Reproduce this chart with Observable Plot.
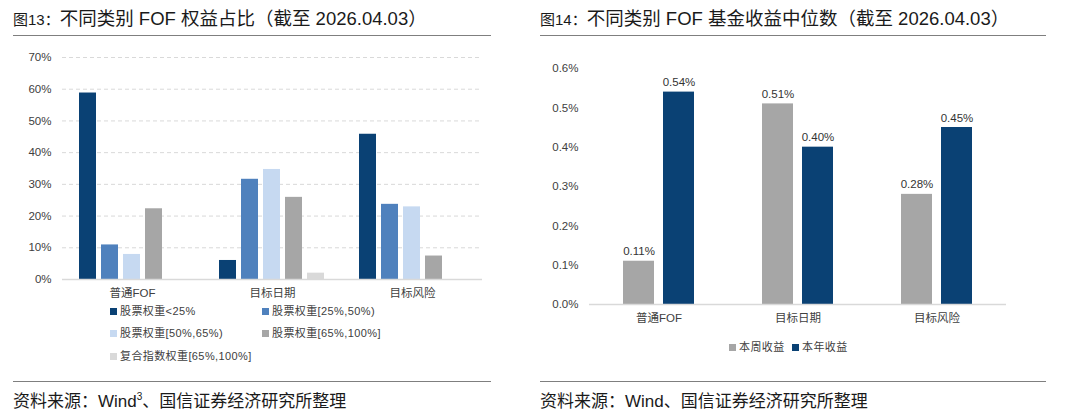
<!DOCTYPE html>
<html><head><meta charset="utf-8">
<script src="https://cdn.jsdelivr.net/npm/d3@7"></script>
<script src="https://cdn.jsdelivr.net/npm/@observablehq/plot@0.6"></script>
<style>
body{margin:0;background:#fff;width:1080px;height:420px;position:relative;overflow:hidden;font-family:"Liberation Sans","Noto Sans CJK SC",sans-serif;color:#1a1a1a}
.abs{position:absolute}
.title{font-size:18.5px;line-height:20px;white-space:nowrap}
.title .fig{font-size:15px}
.rule{position:absolute;height:0;border-top:1.5px solid #7f7f7f}
.cap{font-size:17px;line-height:20px;white-space:nowrap}
.leg{position:absolute;font-size:11px;line-height:16px;height:16px;color:#404040;white-space:nowrap;display:flex;align-items:center;letter-spacing:0.4px}
.sw{display:inline-block;width:7px;height:7px;margin-right:3px}
svg{position:absolute}
</style></head>
<body>
<div class="abs title" style="left:13px;top:9px"><span class="fig">图13：</span>不同类别 FOF 权益占比（截至 2026.04.03）</div>
<div class="rule" style="left:13px;top:35px;width:478px"></div>
<div class="abs title" style="left:540px;top:9px"><span class="fig">图14：</span>不同类别 FOF 基金收益中位数（截至 2026.04.03）</div>
<div class="rule" style="left:540px;top:35px;width:506px"></div>
<div id="left" class="abs" style="left:0;top:40px;width:530px;height:265px"></div>
<div id="right" class="abs" style="left:540px;top:40px;width:540px;height:295px"></div>
<div id="legL"></div>
<div id="legR"></div>
<div class="rule" style="left:13px;top:381px;width:478px"></div>
<div class="abs cap" style="left:13px;top:392px">资料来源：Wind<sup style="font-size:10px;line-height:0">3</sup>、国信证券经济研究所整理</div>
<div class="rule" style="left:540px;top:381px;width:506px"></div>
<div class="abs cap" style="left:540px;top:392px">资料来源：Wind、国信证券经济研究所整理</div>
<script>
// ---- Chart 13 data ----
const catsL = ["普通FOF", "目标日期", "目标风险"];
const seriesL = ["股票权重<25%", "股票权重[25%,50%)", "股票权重[50%,65%)", "股票权重[65%,100%]", "复合指数权重[65%,100%]"];
const colorsL = ["#0A4174", "#4F81BD", "#C6D9F1", "#A6A6A6", "#D9D9D9"];
const s1 = [58.8, 6.0, 45.8];
const s2 = [10.9, 31.6, 23.7];
const s3 = [7.9, 34.7, 22.9];
const s4 = [22.3, 25.9, 7.4];
const s5 = [0, 2.0, 0];
const yTicksL = [0, 10, 20, 30, 40, 50, 60, 70];

// ---- Chart 14 data ----
const catsR = ["普通FOF", "目标日期", "目标风险"];
const seriesR = ["本周收益", "本年收益"];
const colorsR = ["#A6A6A6", "#0A4174"];
const weekly = [0.11, 0.51, 0.28];
const yearly = [0.54, 0.40, 0.45];
const yTicksR = [0, 0.1, 0.2, 0.3, 0.4, 0.5, 0.6];

const seriesValsL = [s1, s2, s3, s4, s5];
const rowsL = [];
seriesL.forEach((s, i) => catsL.forEach((c, j) => rowsL.push({cat: c, series: s, value: seriesValsL[i][j]})));
const seriesValsR = [weekly, yearly];
const rowsR = [];
seriesR.forEach((s, i) => catsR.forEach((c, j) => rowsR.push({cat: c, series: s, value: seriesValsR[i][j]})));

const baseStyle = {fontFamily: "'Liberation Sans','Noto Sans CJK SC',sans-serif", fontSize: "11.5px", color: "#404040", background: "transparent", overflow: "visible"};

const left = Plot.plot({
  width: 530, height: 265,
  marginLeft: 62, marginRight: 48, marginTop: 17, marginBottom: 26,
  style: baseStyle,
  fx: {domain: catsL, padding: 0, label: null, axis: "bottom", tickSize: 0, tickPadding: 9},
  x: {domain: seriesL, axis: null, paddingInner: 0.227, paddingOuter: 0.795},
  y: {domain: [0, 70], ticks: yTicksL, tickFormat: d => d + "%", tickSize: 0, tickPadding: 11, label: null},
  color: {domain: seriesL, range: colorsL},
  marks: [
    Plot.gridY(yTicksL.filter(d => d > 0), {stroke: "#D9D9D9", strokeOpacity: 1, strokeDasharray: "4,3"}),
    Plot.barY(rowsL, {fx: "cat", x: "series", y: "value", fill: "series"}),
    Plot.ruleY([0], {stroke: "#D9D9D9", strokeWidth: 1.5})
  ]
});
document.getElementById("left").appendChild(left);

const right = Plot.plot({
  width: 540, height: 295,
  marginLeft: 48, marginRight: 73, marginTop: 28, marginBottom: 31,
  style: baseStyle,
  fx: {domain: catsR, padding: 0, label: null, axis: "bottom", tickSize: 0, tickPadding: 9},
  x: {domain: seriesR, axis: null, paddingInner: 0.225, paddingOuter: 0.85},
  y: {domain: [0, 0.6], ticks: yTicksR, tickFormat: d => d.toFixed(1) + "%", tickSize: 0, tickPadding: 11, label: null},
  color: {domain: seriesR, range: colorsR},
  marks: [
    Plot.barY(rowsR, {fx: "cat", x: "series", y: "value", fill: "series"}),
    Plot.text(rowsR, {fx: "cat", x: "series", y: "value", text: d => d.value.toFixed(2) + "%", lineAnchor: "bottom", dy: -6, fill: "#333", fontSize: 11.5}),
    Plot.ruleY([0], {stroke: "#D9D9D9", strokeWidth: 1.5})
  ]
});
document.getElementById("right").appendChild(right);

// ---- legends ----
function legItem(parent, label, color, x, yc) {
  const d = document.createElement("div");
  d.className = "leg";
  d.style.left = x + "px";
  d.style.top = (yc - 8) + "px";
  d.innerHTML = `<span class="sw" style="background:${color}"></span>${label}`;
  parent.appendChild(d);
}
const legL = document.getElementById("legL");
const legPosL = [[110, 311], [262, 311], [110, 333], [262, 333], [110, 356]];
seriesL.forEach((s, i) => legItem(legL, s, colorsL[i], legPosL[i][0], legPosL[i][1]));
const legR = document.getElementById("legR");
const legPosR = [[729, 347], [792, 347]];
seriesR.forEach((s, i) => legItem(legR, s, colorsR[i], legPosR[i][0], legPosR[i][1]));
</script>
</body></html>
